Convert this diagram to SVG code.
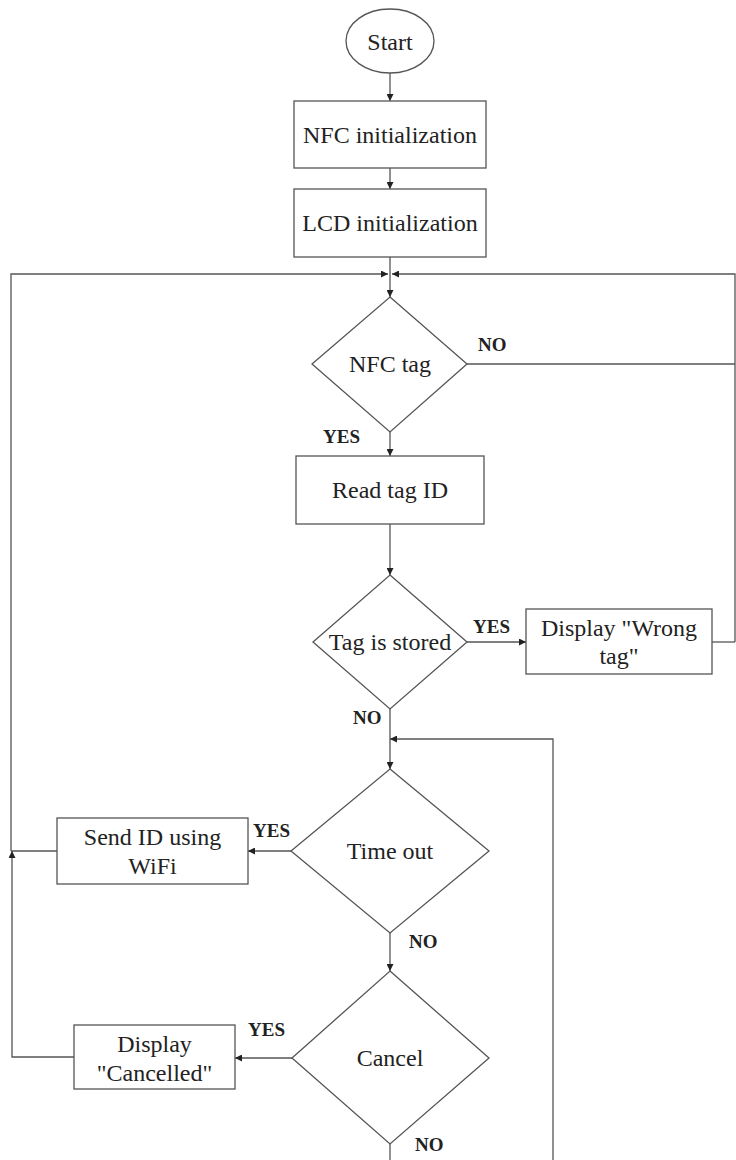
<svg xmlns="http://www.w3.org/2000/svg" width="736" height="1160" viewBox="0 0 736 1160">
<style>
.shape{fill:#fff;stroke:#555;stroke-width:1.3}
.txt{font-family:'Liberation Serif','Times New Roman',Times,serif;font-size:24px;fill:#222;text-anchor:middle}
.lbl{font-family:'Liberation Serif','Times New Roman',Times,serif;font-size:19px;font-weight:bold;fill:#222}
.conn{fill:none;stroke:#555;stroke-width:1.3}
</style>
<defs>
<marker id="arr" viewBox="0 0 10 10" refX="10" refY="5" markerWidth="7" markerHeight="7" markerUnits="userSpaceOnUse" orient="auto">
<path d="M0,0 L10,5 L0,10 z" fill="#222"/>
</marker>
</defs>
<rect width="736" height="1160" fill="#fff"/>
<g id="connectors">
<line class="conn" x1="390" y1="73" x2="390" y2="101" marker-end="url(#arr)"/>
<line class="conn" x1="390" y1="168" x2="390" y2="189" marker-end="url(#arr)"/>
<line class="conn" x1="390" y1="257" x2="390" y2="297" marker-end="url(#arr)"/>
<polyline class="conn" points="11,851 11,274 388,274" marker-end="url(#arr)"/>
<polyline class="conn" points="467,364 735,364"/>
<polyline class="conn" points="735,642 735,274 392,274" marker-end="url(#arr)"/>
<line class="conn" x1="712" y1="642" x2="735" y2="642"/>
<line class="conn" x1="390" y1="432" x2="390" y2="456" marker-end="url(#arr)"/>
<line class="conn" x1="390" y1="524" x2="390" y2="575" marker-end="url(#arr)"/>
<line class="conn" x1="467" y1="642" x2="526" y2="642" marker-end="url(#arr)"/>
<line class="conn" x1="390" y1="709" x2="390" y2="769" marker-end="url(#arr)"/>
<line class="conn" x1="390" y1="1144" x2="390" y2="1160"/>
<polyline class="conn" points="553,1160 553,739 390,739" marker-end="url(#arr)"/>
<line class="conn" x1="291" y1="851" x2="248" y2="851" marker-end="url(#arr)"/>
<line class="conn" x1="57" y1="851" x2="11" y2="851"/>
<line class="conn" x1="390" y1="933" x2="390" y2="971" marker-end="url(#arr)"/>
<line class="conn" x1="292" y1="1058" x2="235" y2="1058" marker-end="url(#arr)"/>
<polyline class="conn" points="74,1057 12,1057 12,851" marker-end="url(#arr)"/>
</g>
<g id="start">
<ellipse class="shape" cx="390" cy="41" rx="44" ry="32"/>
<text class="txt" x="390" y="50">Start</text>
</g>
<g id="nfc-init">
<rect class="shape" x="294" y="101" width="192" height="67"/>
<text class="txt" x="390" y="143">NFC initialization</text>
</g>
<g id="lcd-init">
<rect class="shape" x="294" y="189" width="192" height="68"/>
<text class="txt" x="390" y="231">LCD initialization</text>
</g>
<g id="nfc-tag">
<polygon class="shape" points="390,297 467,364 390,432 312,364"/>
<text class="txt" x="390" y="372">NFC tag</text>
</g>
<g id="read-tag">
<rect class="shape" x="296" y="456" width="188" height="68"/>
<text class="txt" x="390" y="498">Read tag ID</text>
</g>
<g id="tag-stored">
<polygon class="shape" points="390,575 467,642 390,709 313,642"/>
<text class="txt" x="390" y="650">Tag is stored</text>
</g>
<g id="wrong-tag">
<rect class="shape" x="526" y="609" width="186" height="65"/>
<text class="txt" x="619" y="636">Display "Wrong</text>
<text class="txt" x="619" y="664">tag"</text>
</g>
<g id="time-out">
<polygon class="shape" points="390,769 489,851 390,933 291,851"/>
<text class="txt" x="390" y="859">Time out</text>
</g>
<g id="send-id">
<rect class="shape" x="57" y="818" width="191" height="66"/>
<text class="txt" x="152.5" y="845">Send ID using</text>
<text class="txt" x="152.5" y="874">WiFi</text>
</g>
<g id="cancel">
<polygon class="shape" points="390,971 489,1058 390,1144 292,1058"/>
<text class="txt" x="390" y="1066">Cancel</text>
</g>
<g id="cancelled">
<rect class="shape" x="74" y="1025" width="161" height="64"/>
<text class="txt" x="154.5" y="1052">Display</text>
<text class="txt" x="154.5" y="1081">"Cancelled"</text>
</g>
<g id="labels">
<text class="lbl" x="478" y="351">NO</text>
<text class="lbl" x="323" y="443">YES</text>
<text class="lbl" x="473" y="633">YES</text>
<text class="lbl" x="353" y="724">NO</text>
<text class="lbl" x="253" y="837">YES</text>
<text class="lbl" x="409" y="948">NO</text>
<text class="lbl" x="248" y="1036">YES</text>
<text class="lbl" x="415" y="1151">NO</text>
</g>
</svg>
